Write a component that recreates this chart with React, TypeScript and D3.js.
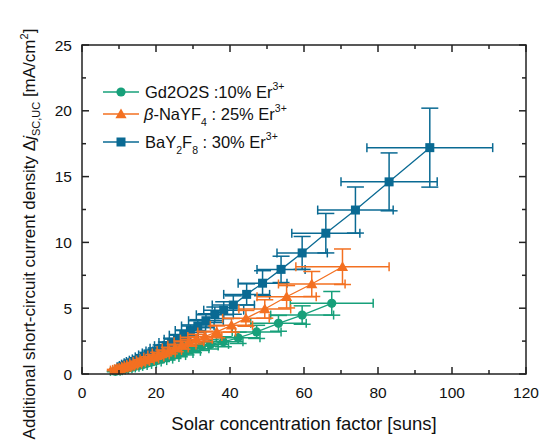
import React from "react";
import * as d3 from "d3";

const xTicks = [0, 20, 40, 60, 80, 100, 120];
const yTicks = [0, 5, 10, 15, 20, 25];

const gdX = [9.0, 9.6, 10.3, 11.0, 11.8, 12.6, 13.5, 14.4, 15.4, 16.5, 17.6, 18.8, 20.1, 21.5, 23.0, 24.6, 26.3, 28.1, 30.1, 32.3, 34.7, 38.2, 42.2, 47.2, 53.1, 59.5, 67.5];
const gdY = [0.2, 0.25, 0.3, 0.35, 0.4, 0.46, 0.52, 0.58, 0.65, 0.73, 0.82, 0.92, 1.02, 1.13, 1.26, 1.4, 1.55, 1.72, 1.92, 2.12, 2.25, 2.45, 2.75, 3.2, 3.85, 4.48, 5.37];
const gdXErr = [1.3, 1.3, 1.4, 1.5, 1.7, 1.8, 1.9, 2.0, 2.2, 2.3, 2.5, 2.6, 2.8, 3.0, 3.2, 3.4, 3.7, 3.9, 4.2, 4.5, 4.9, 5.3, 5.9, 6.6, 7.5, 8.5, 11.2];
const gdYErr = [0.03, 0.04, 0.05, 0.05, 0.06, 0.07, 0.08, 0.09, 0.1, 0.11, 0.13, 0.14, 0.16, 0.18, 0.2, 0.22, 0.24, 0.27, 0.3, 0.33, 0.35, 0.38, 0.43, 0.5, 0.6, 0.7, 0.9];

const naX = [9.0, 9.6, 10.2, 10.9, 11.6, 12.4, 13.2, 14.1, 15.0, 16.0, 17.1, 18.2, 19.4, 20.7, 22.1, 23.6, 25.2, 27.0, 28.9, 30.9, 33.2, 36.4, 40.4, 44.3, 49.4, 55.3, 62.1, 70.4];
const naY = [0.3, 0.35, 0.4, 0.45, 0.5, 0.58, 0.66, 0.75, 0.85, 0.95, 1.05, 1.15, 1.3, 1.45, 1.6, 1.78, 1.98, 2.2, 2.45, 2.65, 2.85, 3.2, 3.7, 4.23, 4.94, 5.87, 6.84, 8.15];
const naXErr = [1.3, 1.3, 1.4, 1.5, 1.6, 1.7, 1.8, 2.0, 2.1, 2.2, 2.4, 2.5, 2.7, 2.9, 3.1, 3.3, 3.5, 3.8, 4.0, 4.3, 4.6, 5.1, 5.7, 6.3, 7.0, 8.0, 9.0, 12.6];
const naYErr = [0.05, 0.05, 0.06, 0.06, 0.07, 0.08, 0.09, 0.1, 0.12, 0.13, 0.15, 0.16, 0.18, 0.2, 0.22, 0.25, 0.28, 0.31, 0.34, 0.37, 0.4, 0.45, 0.52, 0.6, 0.7, 0.85, 0.95, 1.35];

const baX = [11.0, 11.7, 12.4, 13.2, 14.0, 14.9, 15.8, 16.8, 17.8, 18.9, 20.1, 21.4, 22.8, 24.2, 25.8, 27.5, 29.3, 31.3, 33.5, 35.9, 38.3, 40.9, 44.5, 48.8, 53.8, 59.5, 65.9, 73.9, 83.0, 94.0];
const baY = [0.55, 0.65, 0.75, 0.85, 0.95, 1.05, 1.15, 1.3, 1.45, 1.6, 1.75, 1.95, 2.15, 2.4, 2.65, 2.95, 3.3, 3.65, 4.05, 4.5, 4.85, 5.24, 6.05, 6.9, 7.95, 9.2, 10.7, 12.46, 14.6, 17.2];
const baXErr = [1.5, 1.6, 1.7, 1.8, 2.0, 2.1, 2.2, 2.4, 2.5, 2.6, 2.8, 3.0, 3.2, 3.4, 3.6, 3.9, 4.1, 4.4, 4.7, 5.0, 5.4, 5.7, 6.2, 6.6, 6.5, 6.8, 9.2, 10.2, 13.0, 17.0];
const baYErr = [0.1, 0.1, 0.1, 0.12, 0.13, 0.14, 0.15, 0.17, 0.19, 0.21, 0.23, 0.26, 0.28, 0.32, 0.35, 0.39, 0.43, 0.48, 0.53, 0.59, 0.64, 0.7, 0.8, 0.95, 1.0, 1.25, 1.5, 1.75, 2.2, 3.0];

const GREEN = "#17a07a";
const ORANGE = "#f37021";
const BLUE = "#0a6a93";

type Series = { name: string; x: number[]; y: number[]; xe: number[]; ye: number[]; color: string; marker: string };

const series: Series[] = [
  { name: "ba", x: baX, y: baY, xe: baXErr, ye: baYErr, color: BLUE, marker: "square" },
  { name: "gd", x: gdX, y: gdY, xe: gdXErr, ye: gdYErr, color: GREEN, marker: "circle" },
  { name: "na", x: naX, y: naY, xe: naXErr, ye: naYErr, color: ORANGE, marker: "triangle" },
];

const W = 546;
const H = 445;
const L = 82, R = 526, T = 45, B = 374;

function Marker({ type, x, y, color }: { type: string; x: number; y: number; color: string }) {
  if (type === "circle") return <circle cx={x} cy={y} r={4.6} fill={color} />;
  if (type === "square") return <rect x={x - 4.5} y={y - 4.5} width={9} height={9} fill={color} />;
  const s = 5.6;
  return <path d={`M${x},${y - s}L${x + s},${y + s * 0.75}L${x - s},${y + s * 0.75}Z`} fill={color} />;
}

export default function App() {
  const xs = d3.scaleLinear().domain([0, 120]).range([L, R]);
  const ys = d3.scaleLinear().domain([0, 25]).range([B, T]);
  const font = "'Liberation Sans', Arial, sans-serif";
  const axisColor = "#222";
  const xMinor = d3.range(10, 120, 20);
  const yMinor = d3.range(2.5, 25, 5);
  const capW = 8.5;
  const capH = 4.5;
  const legFs = 16.5;
  const legSub = 10.5;

  return (
    <svg width={W} height={H} style={{ position: "absolute", left: 0, top: 0, background: "#fff" }} fontFamily={font}>
      {series.map((s) => {
        const line = d3.line<number>().x((_, i) => xs(s.x[i])).y((_, i) => ys(s.y[i]));
        return (
          <g key={s.name}>
            <path d={line(s.x) || ""} fill="none" stroke={s.color} strokeWidth={1.3} />
            {s.x.map((xv, i) => {
              const cx = xs(xv), cy = ys(s.y[i]);
              const x0 = xs(xv - s.xe[i]), x1 = xs(xv + s.xe[i]);
              const y0 = ys(s.y[i] - s.ye[i]), y1 = ys(s.y[i] + s.ye[i]);
              return (
                <g key={i} stroke={s.color} strokeWidth={1.5} fill="none">
                  <line x1={x0} x2={x1} y1={cy} y2={cy} />
                  <line x1={x0} x2={x0} y1={cy - capH} y2={cy + capH} />
                  <line x1={x1} x2={x1} y1={cy - capH} y2={cy + capH} />
                  <line x1={cx} x2={cx} y1={y0} y2={y1} />
                  <line x1={cx - capW} x2={cx + capW} y1={y0} y2={y0} />
                  <line x1={cx - capW} x2={cx + capW} y1={y1} y2={y1} />
                </g>
              );
            })}
            {s.x.map((xv, i) => (
              <Marker key={"m" + i} type={s.marker} x={xs(xv)} y={ys(s.y[i])} color={s.color} />
            ))}
          </g>
        );
      })}

      <rect x={L} y={T} width={R - L} height={B - T} fill="none" stroke={axisColor} strokeWidth={1.5} />
      {xTicks.map((t) => (
        <g key={"xt" + t} stroke={axisColor} strokeWidth={1.5}>
          <line x1={xs(t)} x2={xs(t)} y1={B} y2={B - 7} />
          <line x1={xs(t)} x2={xs(t)} y1={T} y2={T + 7} />
        </g>
      ))}
      {xMinor.map((t) => (
        <g key={"xm" + t} stroke={axisColor} strokeWidth={1.5}>
          <line x1={xs(t)} x2={xs(t)} y1={B} y2={B - 4} />
          <line x1={xs(t)} x2={xs(t)} y1={T} y2={T + 4} />
        </g>
      ))}
      {yTicks.map((t) => (
        <g key={"yt" + t} stroke={axisColor} strokeWidth={1.5}>
          <line x1={L} x2={L + 7} y1={ys(t)} y2={ys(t)} />
          <line x1={R} x2={R - 7} y1={ys(t)} y2={ys(t)} />
        </g>
      ))}
      {yMinor.map((t) => (
        <g key={"ym" + t} stroke={axisColor} strokeWidth={1.5}>
          <line x1={L} x2={L + 4} y1={ys(t)} y2={ys(t)} />
          <line x1={R} x2={R - 4} y1={ys(t)} y2={ys(t)} />
        </g>
      ))}
      {xTicks.map((t) => (
        <text key={"xl" + t} x={xs(t)} y={398} textAnchor="middle" fontSize={15.5} fill="#111">{t}</text>
      ))}
      {yTicks.map((t) => (
        <text key={"yl" + t} x={72} y={ys(t) + 5.5} textAnchor="end" fontSize={15.5} fill="#111">{t}</text>
      ))}

      <text x={(L + R) / 2} y={430} textAnchor="middle" fontSize={18.5} fill="#111">Solar concentration factor [suns]</text>
      <text transform="translate(35,234) rotate(-90)" textAnchor="middle" fontSize={17} fill="#111">
        Additional short-circuit current density Δ<tspan fontStyle="italic">j</tspan>
        <tspan dy={5} fontSize={11}>SC,UC</tspan>
        <tspan dy={-5}> [mA/cm</tspan>
        <tspan dy={-7} fontSize={11}>2</tspan>
        <tspan dy={7}>]</tspan>
      </text>

      {[
        { c: GREEN, m: "circle", y: 92 },
        { c: ORANGE, m: "triangle", y: 114 },
        { c: BLUE, m: "square", y: 142 },
      ].map((l, i) => (
        <g key={"lg" + i}>
          <line x1={103} x2={139} y1={l.y} y2={l.y} stroke={l.c} strokeWidth={1.5} />
          <Marker type={l.m} x={121} y={l.y} color={l.c} />
        </g>
      ))}
      <text x={145} y={98} fontSize={legFs} fill="#111">
        Gd2O2S :10% Er<tspan dy={-8} fontSize={legSub}>3+</tspan>
      </text>
      <text x={144} y={120} fontSize={legFs} fill="#111">
        <tspan fontStyle="italic">β</tspan>-NaYF<tspan dy={6} fontSize={legSub}>4</tspan>
        <tspan dy={-6}> : 25% Er</tspan>
        <tspan dy={-8} fontSize={legSub}>3+</tspan>
      </text>
      <text x={145} y={148} fontSize={legFs} fill="#111">
        BaY<tspan dy={6} fontSize={legSub}>2</tspan>
        <tspan dy={-6}>F</tspan>
        <tspan dy={6} fontSize={legSub}>8</tspan>
        <tspan dy={-6}> : 30% Er</tspan>
        <tspan dy={-8} fontSize={legSub}>3+</tspan>
      </text>
    </svg>
  );
}
